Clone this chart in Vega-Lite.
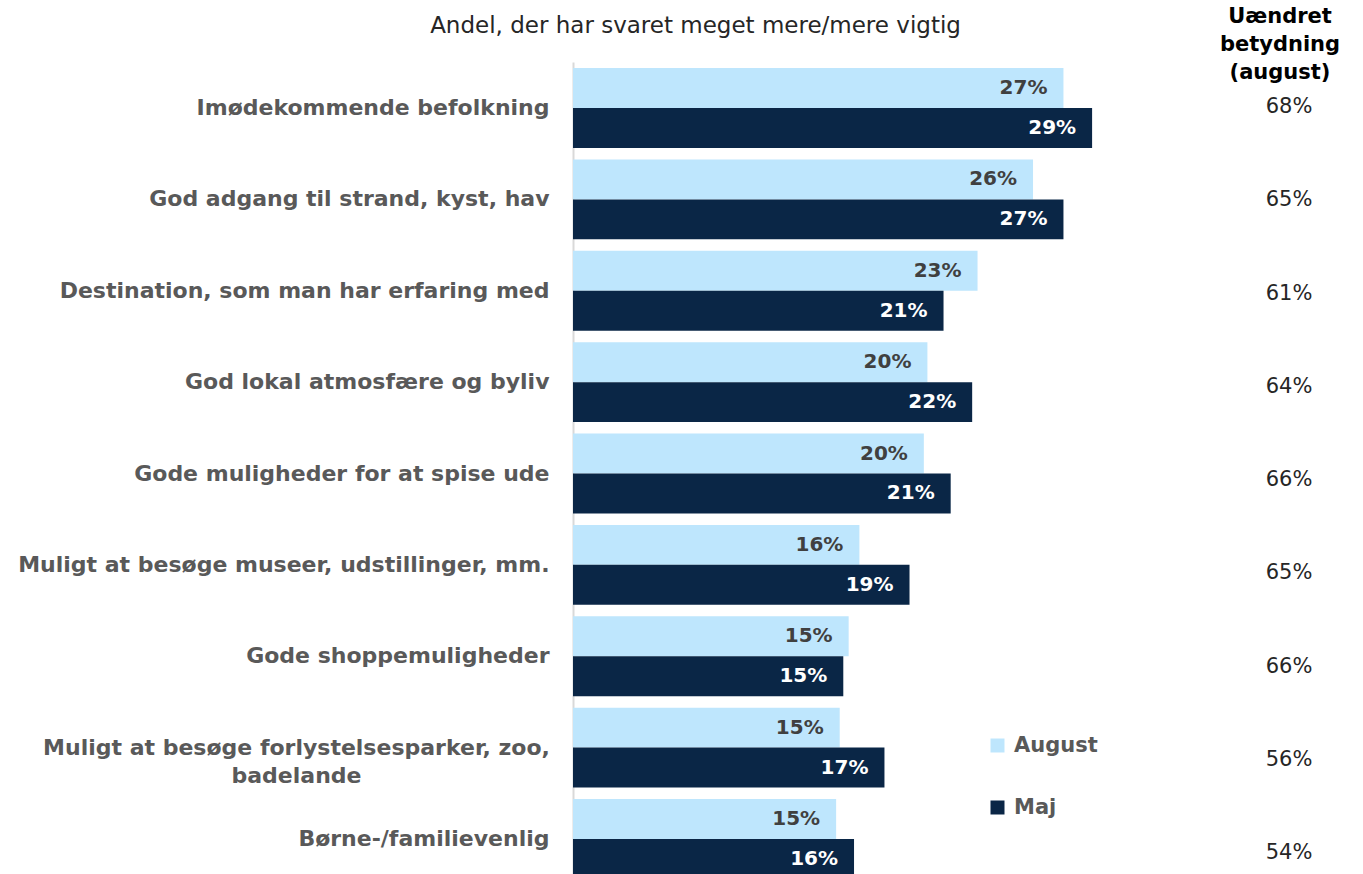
{
  "$schema": "https://vega.github.io/schema/vega-lite/v6.json",
  "width": 716,
  "height": 812,
  "autosize": {"type": "none"},
  "padding": {"left": 573, "top": 62, "right": 74, "bottom": 0},
  "datasets": {
    "bars": [
      {"kategori": "Imødekommende befolkning", "serie": "August", "value": 0.274},
      {"kategori": "Imødekommende befolkning", "serie": "Maj", "value": 0.290},
      {"kategori": "God adgang til strand, kyst, hav", "serie": "August", "value": 0.257},
      {"kategori": "God adgang til strand, kyst, hav", "serie": "Maj", "value": 0.274},
      {"kategori": "Destination, som man har erfaring med", "serie": "August", "value": 0.226},
      {"kategori": "Destination, som man har erfaring med", "serie": "Maj", "value": 0.207},
      {"kategori": "God lokal atmosfære og byliv", "serie": "August", "value": 0.198},
      {"kategori": "God lokal atmosfære og byliv", "serie": "Maj", "value": 0.223},
      {"kategori": "Gode muligheder for at spise ude", "serie": "August", "value": 0.196},
      {"kategori": "Gode muligheder for at spise ude", "serie": "Maj", "value": 0.211},
      {"kategori": "Muligt at besøge museer, udstillinger, mm.", "serie": "August", "value": 0.160},
      {"kategori": "Muligt at besøge museer, udstillinger, mm.", "serie": "Maj", "value": 0.188},
      {"kategori": "Gode shoppemuligheder", "serie": "August", "value": 0.154},
      {"kategori": "Gode shoppemuligheder", "serie": "Maj", "value": 0.151},
      {"kategori": "Muligt at besøge forlystelsesparker, zoo, badelande", "serie": "August", "value": 0.149},
      {"kategori": "Muligt at besøge forlystelsesparker, zoo, badelande", "serie": "Maj", "value": 0.174},
      {"kategori": "Børne-/familievenlig", "serie": "August", "value": 0.147},
      {"kategori": "Børne-/familievenlig", "serie": "Maj", "value": 0.157}
    ],
    "uaendret": [
      {"kategori": "Imødekommende befolkning", "uaendret": 0.68},
      {"kategori": "God adgang til strand, kyst, hav", "uaendret": 0.65},
      {"kategori": "Destination, som man har erfaring med", "uaendret": 0.61},
      {"kategori": "God lokal atmosfære og byliv", "uaendret": 0.64},
      {"kategori": "Gode muligheder for at spise ude", "uaendret": 0.66},
      {"kategori": "Muligt at besøge museer, udstillinger, mm.", "uaendret": 0.65},
      {"kategori": "Gode shoppemuligheder", "uaendret": 0.66},
      {"kategori": "Muligt at besøge forlystelsesparker, zoo, badelande", "uaendret": 0.56},
      {"kategori": "Børne-/familievenlig", "uaendret": 0.54}
    ]
  },
  "title": {
    "text": ["Uændret", "betydning", "(august)"],
    "anchor": "end",
    "frame": "group",
    "align": "center",
    "font": "DejaVu Sans",
    "fontSize": 21,
    "fontWeight": "bold",
    "color": "#000000",
    "lineHeight": 28,
    "offset": -21,
    "dx": -9,
    "dy": 48
  },
  "layer": [
    {
      "data": {"name": "bars"},
      "encoding": {
        "y": {
          "field": "kategori",
          "type": "nominal",
          "sort": null,
          "scale": {"range": [0, 823], "paddingInner": 0.125, "paddingOuter": 0.066},
          "axis": {
            "title": null,
            "ticks": false,
            "domain": true,
            "domainColor": "#d9d9d9",
            "domainWidth": 2,
            "labelFont": "DejaVu Sans",
            "labelFontSize": 22,
            "labelFontWeight": "bold",
            "labelColor": "#595959",
            "labelPadding": {"condition": {"test": "datum.value == 'Muligt at besøge forlystelsesparker, zoo, badelande'", "value": 277}, "value": 24},
            "labelAlign": {"condition": {"test": "datum.value == 'Muligt at besøge forlystelsesparker, zoo, badelande'", "value": "center"}, "value": "right"},
            "labelLimit": 0,
            "labelLineHeight": 28,
            "labelExpr": "datum.label == 'Muligt at besøge forlystelsesparker, zoo, badelande' ? ['Muligt at besøge forlystelsesparker, zoo,', 'badelande'] : datum.label"
          }
        },
        "yOffset": {"field": "serie", "type": "nominal", "sort": ["August", "Maj"]},
        "x": {
          "field": "value",
          "type": "quantitative",
          "scale": {"domain": [0, 0.4], "nice": false},
          "axis": {
            "orient": "top",
            "labels": false,
            "ticks": false,
            "domain": false,
            "grid": false,
            "title": "Andel, der har svaret meget mere/mere vigtig",
            "titleFont": "DejaVu Sans",
            "titleFontSize": 23,
            "titleFontWeight": "normal",
            "titleColor": "#262626",
            "titleX": 122,
            "titleY": -37,
            "titleAlign": "center",
            "titleBaseline": "middle"
          }
        }
      },
      "layer": [
        {
          "mark": {"type": "bar"},
          "encoding": {
            "color": {
              "field": "serie",
              "type": "nominal",
              "sort": ["August", "Maj"],
              "scale": {"domain": ["August", "Maj"], "range": ["#BEE6FD", "#0A2646"]},
              "legend": {
                "orient": "none",
                "legendX": 414,
                "legendY": 673,
                "title": null,
                "symbolType": "square",
                "symbolSize": 196,
                "symbolStrokeWidth": 0,
                "labelFont": "DejaVu Sans",
                "labelFontSize": 21,
                "labelFontWeight": "bold",
                "labelColor": "#595959",
                "rowPadding": 40,
                "labelOffset": 6
              }
            }
          }
        },
        {
          "mark": {"type": "text", "align": "right", "baseline": "middle", "dx": -16, "font": "DejaVu Sans", "fontSize": 20, "fontWeight": "bold"},
          "encoding": {
            "text": {"field": "value", "type": "quantitative", "format": ".0%"},
            "color": {"condition": {"test": "datum.serie === 'Maj'", "value": "#ffffff"}, "value": "#404040"}
          }
        }
      ]
    },
    {
      "data": {"name": "uaendret"},
      "mark": {"type": "text", "align": "center", "baseline": "middle", "font": "DejaVu Sans", "fontSize": 21, "color": "#262626"},
      "encoding": {
        "y": {
          "field": "kategori",
          "type": "nominal",
          "sort": null,
          "scale": {"type": "point", "range": [45, 791], "padding": 0},
          "axis": null
        },
        "x": {"datum": 0.4, "type": "quantitative"},
        "text": {"field": "uaendret", "type": "quantitative", "format": ".0%"}
      }
    }
  ],
  "resolve": {"scale": {"y": "independent"}},
  "config": {"view": {"stroke": null}, "font": "DejaVu Sans"}
}
